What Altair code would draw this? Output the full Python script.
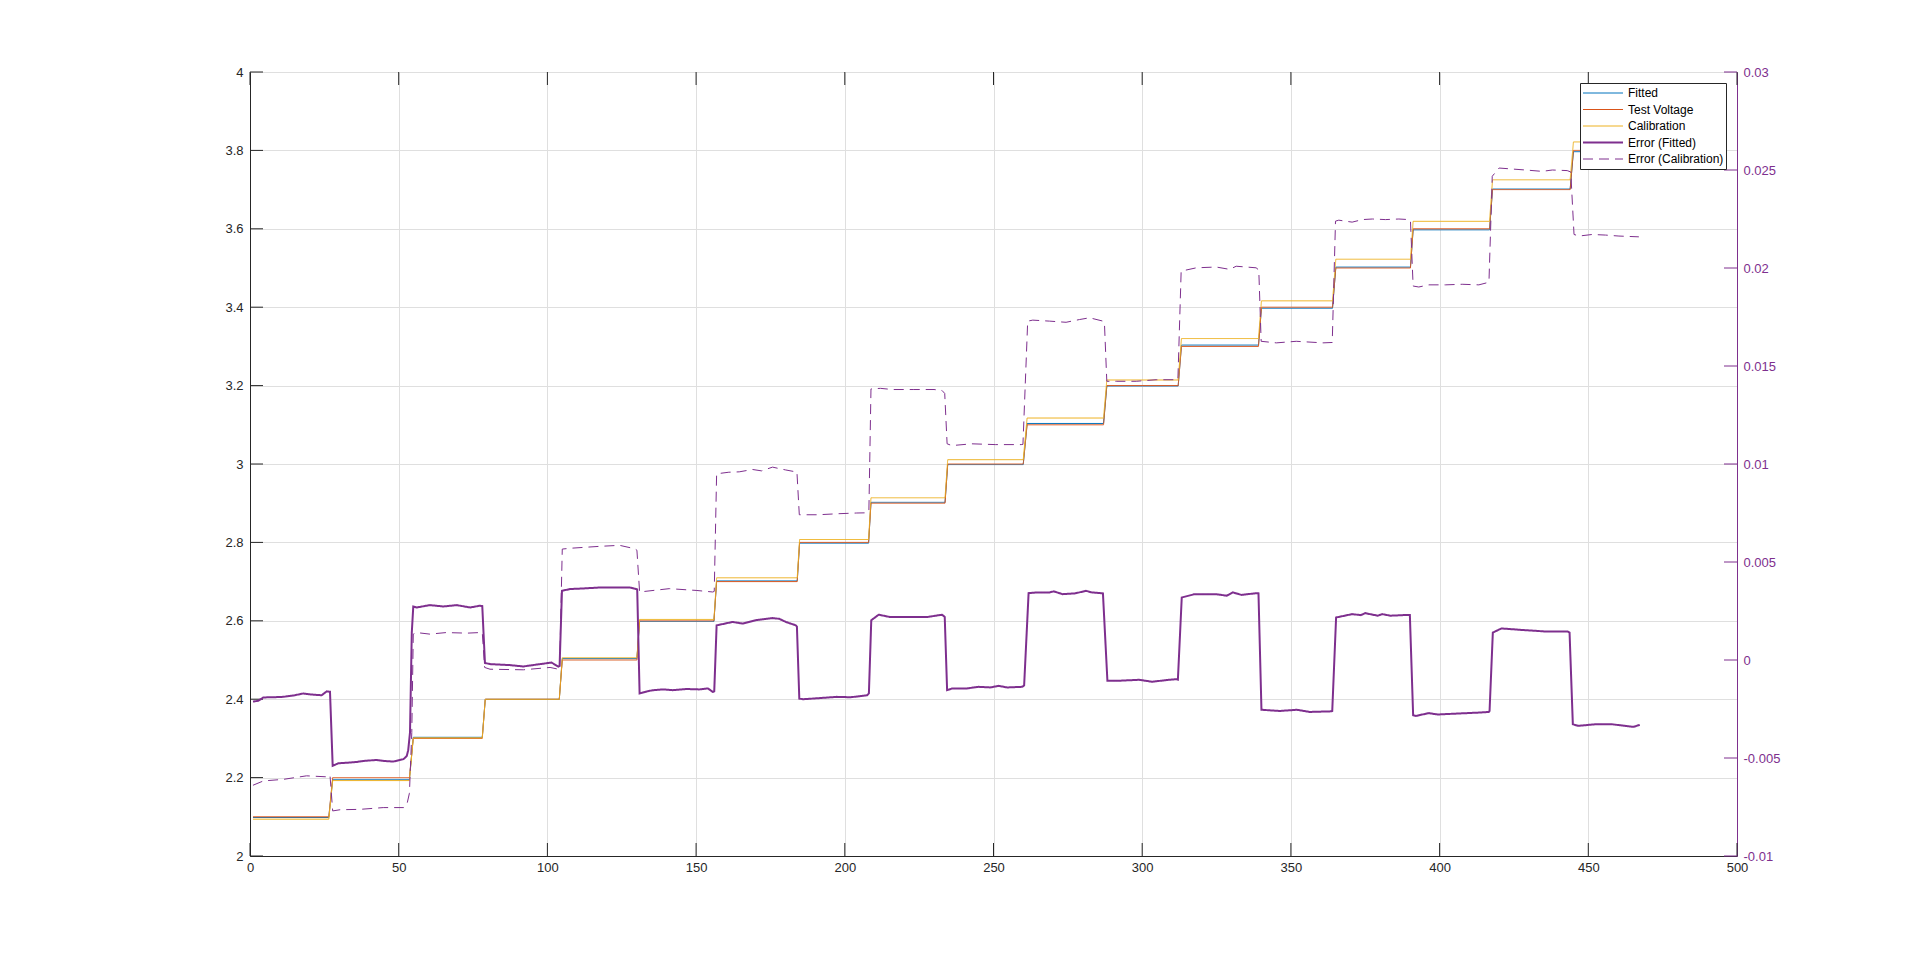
import altair as alt
import pandas as pd

# ---------------- data ----------------
SERIES = ["Fitted", "Test Voltage", "Calibration", "Error (Fitted)", "Error (Calibration)"]

# x positions of the step boundaries (start / end of each level)
STEP_X = [1, 26.5, 27.8, 53.6, 54.9, 78.1, 79.1, 104.0, 105.0, 130.1, 131.0, 156.0,
          156.9, 184.0, 184.8, 208.0, 208.8, 233.7, 234.6, 260.0, 261.3, 287.0, 288.1,
          312.1, 313.2, 339.1, 340.1, 364.0, 365.1, 390.2, 391.1, 416.8, 417.8, 443.9,
          445.0, 467.3]

TEST_LEVELS = [2.1, 2.2, 2.3, 2.4, 2.5, 2.6, 2.7, 2.8, 2.9, 3.0, 3.1, 3.2, 3.3, 3.4,
               3.5, 3.6, 3.7, 3.8]
FITTED_LEVELS = [2.0981, 2.1948, 2.3028, 2.3997, 2.5036, 2.5984, 2.702, 2.798, 2.9022,
                 2.9985, 3.1034, 3.1989, 3.3034, 3.3974, 3.5023, 3.5973, 3.7015, 3.7967]
CAL_LEVELS = [2.0939, 2.1924, 2.3014, 2.3996, 2.5058, 2.6035, 2.7097, 2.8074, 2.9138,
              3.011, 3.1173, 3.2143, 3.32, 3.4162, 3.5224, 3.6191, 3.725, 3.8216]

ERR_FIT_X = [1, 2.8, 4.5, 8, 11.2, 15, 17.9, 20, 22.4, 24.1, 25.8, 26.9,
             27.8, 29.7, 33.6, 36, 38.1, 42.6, 45, 48.2, 51.6, 52.7, 53.2, 53.8, 54.4, 54.9,
             56, 60.5, 65, 69.5, 74, 77.3, 78.1,
             79, 80.7, 87.4, 91.9, 97.5, 101.4, 103.7, 104.1,
             104.9, 107.6, 112, 117.7, 123.3, 127.8, 129.3, 130.2,
             131, 133.5, 135.5, 139, 142.2, 146.6, 151.1, 154, 155.6, 156.1,
             156.9, 162.3, 165.6, 170.1, 175.7, 178, 180.2, 183.5, 183.9,
             184.7, 186, 191, 197.3, 202, 207.5, 208.1,
             208.9, 211.4, 215, 222, 228, 232.7, 233.6,
             234.4, 236, 240.5, 245, 248.9, 251.7, 254.6, 259.6, 260.3,
             261.8, 264.6, 268.9, 270.3, 273.2, 277.5, 281.1, 283, 286.1, 286.8,
             288.3, 291.8, 299, 303.3, 309, 311.6, 312,
             313.3, 317.6, 324.8, 328.4, 330.5, 333.4, 338.4, 339.1,
             340.1, 346.3, 352, 356.3, 363.5, 363.9,
             365.2, 370.6, 373.5, 375, 379.2, 380.7, 383.5, 389.3, 390,
             391.1, 392.1, 396.4, 399.3, 406.4, 413.6, 416.5, 416.8,
             417.9, 420.8, 428, 435.1, 443, 443.7,
             444.8, 446.6, 452.3, 458, 462.3, 465.2, 467.3]
ERR_FIT_Y = [-0.00212, -0.00208, -0.00191, -0.0019, -0.00188, -0.0018, -0.00171, -0.00175, -0.00178, -0.0018, -0.0016, -0.00162,
             -0.0054, -0.00527, -0.00523, -0.0052, -0.00515, -0.0051, -0.00515, -0.00518, -0.00506, -0.0049, -0.0046, -0.0037, 0.0014, 0.00273,
             0.00268, 0.0028, 0.00273, 0.0028, 0.00268, 0.00277, 0.00275,
             -0.00015, -0.00021, -0.00026, -0.00033, -0.00021, -0.00013, -0.00034, -0.0003,
             0.00353, 0.00362, 0.00365, 0.0037, 0.0037, 0.0037, 0.00364, 0.0036,
             -0.00171, -0.0016, -0.00154, -0.0015, -0.00154, -0.00148, -0.0015, -0.00145, -0.00163, -0.0016,
             0.00177, 0.00194, 0.00186, 0.00203, 0.00214, 0.0021, 0.00194, 0.00177, 0.0017,
             -0.00197, -0.002, -0.00195, -0.00188, -0.0019, -0.0018, -0.0017,
             0.00203, 0.00231, 0.0022, 0.0022, 0.0022, 0.00231, 0.0022,
             -0.00154, -0.00146, -0.00146, -0.00137, -0.0014, -0.00132, -0.0014, -0.00137, -0.0013,
             0.00341, 0.00345, 0.00345, 0.0035, 0.00336, 0.0034, 0.00353, 0.00345, 0.00341, 0.0034,
             -0.00106, -0.00106, -0.00101, -0.00111, -0.00101, -0.00098, -0.001,
             0.00319, 0.00336, 0.00336, 0.00328, 0.00345, 0.00332, 0.00341, 0.0034,
             -0.00254, -0.0026, -0.00254, -0.00265, -0.00262, -0.0026,
             0.00217, 0.00234, 0.00229, 0.00239, 0.00226, 0.00234, 0.00226, 0.0023, 0.0023,
             -0.00282, -0.00285, -0.00271, -0.00278, -0.00273, -0.00268, -0.00265, -0.0026,
             0.0014, 0.00161, 0.00153, 0.00146, 0.00146, 0.0014,
             -0.00328, -0.00336, -0.00328, -0.00328, -0.00336, -0.00341, -0.00331]

ERR_CAL_X = [1, 4.5, 11.2, 19, 25.8, 26.9,
             27.8, 30.3, 37, 44.8, 51.6, 52.7, 53.6, 54.4, 54.9,
             56, 60.5, 66, 72.9, 77.3, 78.1,
             78.9, 80.7, 91.9, 100.9, 103.7, 104.1,
             105, 107.6, 117.7, 124.3, 129.3, 130.1,
             131, 141, 150, 155.6, 156.1,
             156.9, 161, 164.5, 169, 172, 175.7, 180, 183.5, 183.9,
             184.7, 191, 197.3, 204, 207.5, 208.1,
             208.8, 212, 216, 223, 230, 232.7, 233.6,
             234.4, 236, 242.7, 250.6, 253.1, 259.3, 259.9,
             261.5, 263.2, 268.8, 274.4, 278.9, 282.3, 286.8, 287.3,
             288.1, 291.3, 298, 304.7, 311.4, 312,
             313.1, 318.2, 324.9, 329.4, 331.6, 338.3, 339.2,
             340, 345.1, 351.8, 360.8, 363.9,
             365, 366.1, 370.6, 374, 377.4, 381.8, 386.3, 389.7, 390.2,
             391.1, 393, 396.4, 402, 407.6, 413.2, 416, 416.6,
             417.7, 420, 424.4, 428.9, 434.5, 437.9, 442.9, 444.1,
             445.2, 446.9, 451.3, 455.8, 460.3, 467]
ERR_CAL_Y = [-0.00639, -0.00617, -0.00609, -0.00591, -0.00596, -0.00588,
             -0.0077, -0.00764, -0.00762, -0.00753, -0.00753, -0.00741, -0.0068, -0.0037, 0.00132,
             0.0014, 0.00132, 0.0014, 0.00137, 0.0014, 0.0014,
             -0.00038, -0.00047, -0.0005, -0.00038, -0.00047, -0.0005,
             0.00566, 0.0057, 0.0058, 0.00585, 0.00568, 0.0056,
             0.00347, 0.00364, 0.00355, 0.00347, 0.0035,
             0.0095, 0.00958, 0.0096, 0.00972, 0.00965, 0.00984, 0.0097, 0.0096, 0.0096,
             0.00741, 0.00741, 0.00746, 0.0075, 0.00751, 0.0076,
             0.01383, 0.01386, 0.0138, 0.0138, 0.0138, 0.01375, 0.0136,
             0.01103, 0.01094, 0.01103, 0.01099, 0.01099, 0.01099, 0.011,
             0.01729, 0.01734, 0.01729, 0.01723, 0.01737, 0.01746, 0.01729, 0.0172,
             0.01422, 0.01422, 0.01422, 0.0143, 0.0143, 0.0143,
             0.01984, 0.02001, 0.02005, 0.01993, 0.02009, 0.02001, 0.0199,
             0.01626, 0.01618, 0.01626, 0.01618, 0.0162,
             0.02239, 0.02244, 0.02234, 0.02247, 0.0225, 0.02247, 0.0225, 0.02247, 0.0224,
             0.01908, 0.01903, 0.01914, 0.01914, 0.01917, 0.01914, 0.01925, 0.0193,
             0.02468, 0.0251, 0.02505, 0.025, 0.02493, 0.025, 0.02497, 0.0249,
             0.02171, 0.02163, 0.02171, 0.02168, 0.02163, 0.02159]

X_TICKS = [0, 50, 100, 150, 200, 250, 300, 350, 400, 450, 500]
YL_TICKS = [2, 2.2, 2.4, 2.6, 2.8, 3, 3.2, 3.4, 3.6, 3.8, 4]
YR_TICKS = [-0.01, -0.005, 0, 0.005, 0.01, 0.015, 0.02, 0.025, 0.03]

# ---------------- styles ----------------
COLORS = ["#0072BD", "#D95319", "#EDB120", "#7E2F8E", "#7E2F8E"]
WIDTHS = [1, 1, 1, 2, 1]
DASHES = [[1, 0], [1, 0], [1, 0], [1, 0], [10, 6]]
PURPLE = "#7E2F8E"
AXC = "#262626"
GRID = "#dfdfdf"
FONT = "Liberation Sans"
W, H = 1487, 784
TL = 13

# ---------------- tables ----------------
rows = []
for name, levels in [("Fitted", FITTED_LEVELS), ("Test Voltage", TEST_LEVELS), ("Calibration", CAL_LEVELS)]:
    for i, v in enumerate(levels):
        rows.append({"series": name, "x": STEP_X[2 * i], "y": v})
        rows.append({"series": name, "x": STEP_X[2 * i + 1], "y": v})
steps_df = pd.DataFrame(rows)

err_df = pd.concat([
    pd.DataFrame({"series": "Error (Fitted)", "x": ERR_FIT_X, "y": ERR_FIT_Y}),
    pd.DataFrame({"series": "Error (Calibration)", "x": ERR_CAL_X, "y": ERR_CAL_Y}),
], ignore_index=True)

# ---------------- encodings ----------------
xaxis = alt.Axis(values=X_TICKS, title=None, grid=True, gridColor=GRID, ticks=False,
                 domainColor=AXC, labelColor=AXC, labelFont=FONT, labelFontSize=13,
                 labelPadding=5, labelFlush=False, labelOverlap=False)
X = alt.X("x:Q", scale=alt.Scale(domain=[0, 500], nice=False, zero=False), axis=xaxis)

laxis = alt.Axis(values=YL_TICKS, title=None, orient="left", grid=True, gridColor=GRID,
                 ticks=False, domainColor=AXC, labelColor=AXC, labelFont=FONT,
                 labelFontSize=13, labelPadding=7, labelFlush=False, labelOverlap=False,
                 labelExpr="'' + datum.value")
YL = alt.Y("y:Q", scale=alt.Scale(domain=[2, 4], nice=False, zero=False), axis=laxis)

raxis = alt.Axis(values=YR_TICKS, title=None, orient="right", grid=False, ticks=False,
                 domainColor=PURPLE, labelColor=PURPLE, labelFont=FONT, labelFontSize=13,
                 labelPadding=6, labelFlush=False, labelOverlap=False,
                 labelExpr="'' + datum.value")
YR = alt.Y("y:Q", scale=alt.Scale(domain=[-0.01, 0.03], nice=False, zero=False), axis=raxis)

LEG = alt.Legend(title=None, orient="none", legendX=1330, legendY=11, fillColor="white",
                 strokeColor=AXC, padding=2, cornerRadius=0, symbolSize=1600,
                 symbolType="stroke", clipHeight=16, rowPadding=0.5, labelOffset=4,
                 labelFont=FONT, labelFontSize=12, labelColor="black", labelLimit=300)

color = alt.Color("series:N", scale=alt.Scale(domain=SERIES, range=COLORS), legend=LEG)
dash = alt.StrokeDash("series:N", scale=alt.Scale(domain=SERIES, range=DASHES), legend=LEG)
width = alt.StrokeWidth("series:N", scale=alt.Scale(type="ordinal", domain=SERIES, range=WIDTHS), legend=LEG)

steps = alt.Chart(steps_df).mark_line().encode(x=X, y=YL, color=color, strokeDash=dash, strokeWidth=width)
errs = alt.Chart(err_df).mark_line().encode(x=X, y=YR, color=color, strokeDash=dash, strokeWidth=width)

xt_df = pd.DataFrame({"x": X_TICKS})
bottom_ticks = alt.Chart(xt_df).mark_rule(color=AXC, strokeWidth=1).encode(
    x=X, y=alt.value(H - TL), y2=alt.value(H))
top_ticks = alt.Chart(xt_df).mark_rule(color=AXC, strokeWidth=1).encode(
    x=X, y=alt.value(0), y2=alt.value(TL))
left_ticks = alt.Chart(pd.DataFrame({"y": YL_TICKS})).mark_rule(color=AXC, strokeWidth=1).encode(
    y=YL, x=alt.value(0), x2=alt.value(TL))
right_ticks = alt.Chart(pd.DataFrame({"y": YR_TICKS})).mark_rule(color=PURPLE, strokeWidth=1).encode(
    y=YR, x=alt.value(W - TL), x2=alt.value(W))

left_group = alt.layer(steps, bottom_ticks, top_ticks, left_ticks)
right_group = alt.layer(errs, right_ticks)

chart = alt.layer(left_group, right_group).resolve_scale(y="independent").properties(
    width=W, height=H,
    padding={"left": 242, "top": 64, "right": 150, "bottom": 80},
    autosize=alt.AutoSizeParams(type="none"),
    background="white",
).configure_view(stroke=AXC, strokeWidth=1)

chart.save("out.html", embed_options={"renderer": "svg", "actions": False})
